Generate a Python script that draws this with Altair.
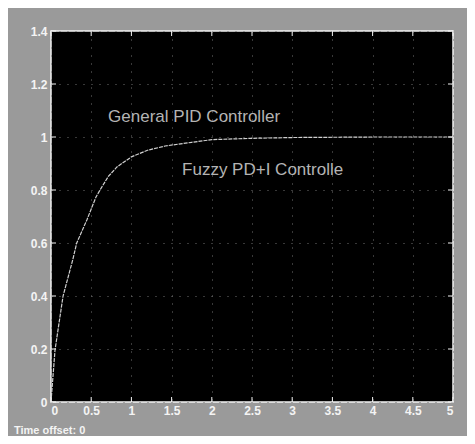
import altair as alt
import pandas as pd

# Step response
t_vals = [0, 0.05, 0.15, 0.27, 0.32, 0.45, 0.56, 0.61, 0.71, 0.82, 1.0, 1.2, 1.42, 1.75, 2.0, 2.5, 3.0, 4.0, 5.0]
y_vals = [0, 0.196, 0.4, 0.536, 0.6, 0.69, 0.774, 0.8, 0.85, 0.887, 0.925, 0.95, 0.966, 0.98, 0.99, 0.995, 0.998, 1.0, 1.0]

x_ticks = [0, 0.5, 1, 1.5, 2, 2.5, 3, 3.5, 4, 4.5, 5]
y_ticks = [0, 0.2, 0.4, 0.6, 0.8, 1.0, 1.2, 1.4]

label_text = ["General PID Controller", "Fuzzy PD+I Controlle"]
label_x = [0.71, 1.63]
label_y = [1.075, 0.875]

W, H = 402, 371

df = pd.DataFrame({"t": t_vals, "y": y_vals})
xdf = pd.DataFrame({"x": x_ticks})
ydf = pd.DataFrame({"y": y_ticks})
ldf = pd.DataFrame({"text": label_text, "x": label_x, "y": label_y})

xs = alt.Scale(domain=[0, 5], nice=False)
ys = alt.Scale(domain=[0, 1.4], nice=False)

x_axis = alt.Axis(values=x_ticks, format="~g", grid=True, gridColor="#707070",
                  gridDash=[1, 7], gridWidth=1, ticks=False, domain=False,
                  labelColor="#f4f4f4", labelFont="Arial", labelFontSize=12,
                  labelFontWeight="bold", labelPadding=3, title=None)
y_axis = alt.Axis(values=y_ticks, format="~g", grid=True, gridColor="#707070",
                  gridDash=[1, 7], gridWidth=1, ticks=False, domain=False,
                  labelColor="#f4f4f4", labelFont="Arial", labelFontSize=12,
                  labelFontWeight="bold", labelPadding=4, title=None)

line = alt.Chart(df).mark_line(color="#d0d0d0", strokeWidth=1.2, strokeDash=[4, 1]).encode(
    x=alt.X("t:Q", scale=xs, axis=x_axis),
    y=alt.Y("y:Q", scale=ys, axis=y_axis),
)

labels = alt.Chart(ldf).mark_text(align="left", baseline="middle", color="#b4b4b4",
                                  font="Arial", fontSize=17).encode(
    x=alt.X("x:Q", scale=xs), y=alt.Y("y:Q", scale=ys), text="text:N")

tick_col = "#f4f4f4"
bt = alt.Chart(xdf).mark_rule(color=tick_col).encode(
    x=alt.X("x:Q", scale=xs), y=alt.value(H), y2=alt.value(H - 5))
tt = alt.Chart(xdf).mark_rule(color=tick_col).encode(
    x=alt.X("x:Q", scale=xs), y=alt.value(0), y2=alt.value(5))
lt = alt.Chart(ydf).mark_rule(color=tick_col).encode(
    y=alt.Y("y:Q", scale=ys), x=alt.value(0), x2=alt.value(5))
rt = alt.Chart(ydf).mark_rule(color=tick_col).encode(
    y=alt.Y("y:Q", scale=ys), x=alt.value(W), x2=alt.value(W - 5))

offset = alt.Chart(pd.DataFrame({"text": ["Time offset:  0"]})).mark_text(
    align="left", baseline="middle", color="#f4f4f4", font="Arial",
    fontSize=11, fontWeight="bold").encode(
    x=alt.value(-37), y=alt.value(H + 29), text="text:N")

chart = alt.layer(line, labels, bt, tt, lt, rt, offset).properties(
    width=W, height=H,
    autosize=alt.AutoSizeParams(type="none"),
    padding={"left": 43, "top": 23, "right": 14, "bottom": 34},
    background="#9a9a9a",
).configure_view(fill="#000000", stroke="#f4f4f4", strokeWidth=1.5)

chart.save("out.html", embed_options={"renderer": "svg", "actions": False})
